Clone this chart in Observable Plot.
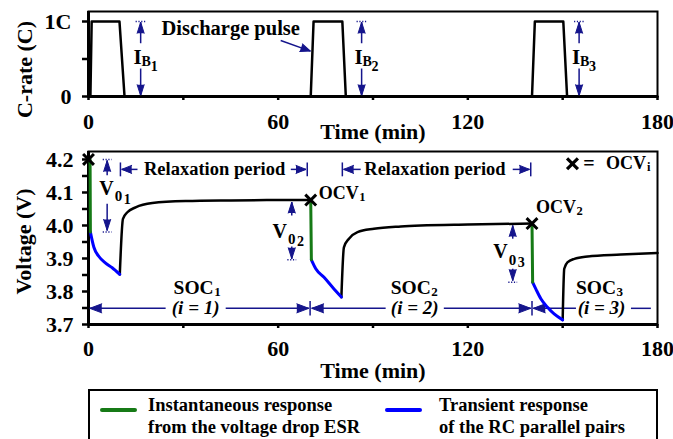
<!DOCTYPE html>
<html>
<head>
<meta charset="utf-8">
<script src="https://cdn.jsdelivr.net/npm/d3@7"></script>
<script src="https://cdn.jsdelivr.net/npm/@observablehq/plot@0.6"></script>
<style>
  body { margin: 0; background: #fff; }
  #fig { position: relative; width: 673px; height: 439px; overflow: hidden; background: #fff;
         font-family: "Liberation Serif", "Times New Roman", serif; font-weight: bold; color: #000; }
  #rate, #volt { position: absolute; left: 0; }
  #rate { top: 0; }
  #volt { top: 140px; }
  .legend { position: absolute; left: 88px; top: 389px; width: 566px; height: 80px; border: 2px solid #000; }
  .legend .sw { position: absolute; height: 4px; border-radius: 2px; }
  .legend .lt { position: absolute; font-size: 18.5px; line-height: 22px; white-space: nowrap; }
</style>
</head>
<body>
<div id="fig">
  <div id="rate"></div>
  <div id="volt"></div>
  <div class="legend" id="legend"></div>
</div>
<script>
// ---- C-rate pulse profile (top panel) ----
const rateTime = [0, 0.6, 1.0, 9.8, 11.4, 70.3, 71.2, 80.3, 81.4, 140.3, 141.2, 150.2, 151.4, 180];
const rateC    = [0, 0,   1,   1,   0,    0,    1,    1,    0,    0,     1,     1,     0,     0];

// ---- Terminal voltage, split by response phase (step = pulse index i) ----
// instantaneous drop across ESR
const esrTime = [0.5, 0.6, 70.3, 70.5, 140.3, 140.5];
const esrVolt = [4.200, 3.980, 4.077, 3.896, 4.006, 3.828];
const esrStep = [1, 1, 2, 2, 3, 3];
// transient response of the RC pairs during the pulse
const rcTime = [0.6, 1.7, 3.3, 5.4, 7.5, 9.9, 70.5, 71.9, 74.5, 77.2, 80.0, 140.5, 141.5, 143.1, 145.2, 147.3, 150.0];
const rcVolt = [3.980, 3.934, 3.906, 3.886, 3.872, 3.852, 3.896, 3.869, 3.843, 3.813, 3.783, 3.828, 3.808, 3.778, 3.752, 3.732, 3.714];
const rcStep = [1, 1, 1, 1, 1, 1, 2, 2, 2, 2, 2, 3, 3, 3, 3, 3, 3];
// relaxation after each pulse
const restTime = [9.9, 10.9, 12.3, 14.9, 20.2, 30.7, 45, 60, 70.3,
                  80.0, 80.8, 82.4, 85.1, 90.3, 98.8, 105.1, 120, 140.3,
                  150.0, 150.5, 151.6, 153.7, 157.9, 168.4, 180];
const restVolt = [3.852, 4.020, 4.040, 4.055, 4.068, 4.074, 4.076, 4.077, 4.077,
                  3.783, 3.934, 3.960, 3.980, 3.990, 3.997, 4.000, 4.003, 4.006,
                  3.714, 3.869, 3.889, 3.899, 3.906, 3.912, 3.917];
const restStep = [1, 1, 1, 1, 1, 1, 1, 1, 1, 2, 2, 2, 2, 2, 2, 2, 2, 2, 3, 3, 3, 3, 3, 3, 3];

// open-circuit voltage at the start of each pulse
const ocvTime = [0, 70.3, 140.3];
const ocvVolt = [4.200, 4.077, 4.006];

// ---- Axis ticks ----
const timeTicks = [0, 30, 60, 90, 120, 150, 180];
const timeTickLabels = ["0", "", "60", "", "120", "", "180"];
const rateTicks = [0, 0.5, 1];
const rateTickLabels = ["0", "", "1C"];
const voltTicks = [3.7, 3.75, 3.8, 3.85, 3.9, 3.95, 4.0, 4.05, 4.1, 4.15, 4.2];
const voltTickLabels = ["3.7", "", "3.8", "", "3.9", "", "4.0", "", "4.1", "", "4.2"];

// ---- Annotations ----
const ibTime = [16.5, 86.4, 155.2];
const ibSub = ["1", "2", "3"];

const v0Time = [5.9, 64.3, 134.2];
const v0UpTail = [4.152, 4.030, 3.960];
const v0UpTip = [4.197, 4.071, 4.000];
const v0DownTail = [4.066, 3.936, 3.869];
const v0DownTip = [3.985, 3.899, 3.833];
const v0LabelTime = [8.0, 62.8, 132.6];
const v0LabelVolt = [4.112, 3.983, 3.920];
const v0Sub = ["1", "2", "3"];

const relaxStart = [10.1, 80.3];
const relaxEnd = [69.2, 139.9];
const relaxGapStart = [15.5, 86.1];
const relaxGapEnd = [64.0, 134.2];
const relaxMid = [39.9, 109.6];

const socStart = [0.4, 70.6, 140.7];
const socEnd = [69.7, 139.9, 177.9];
const socGapStart = [24.4, 94.0, 154.2];
const socGapEnd = [43.4, 112.4, 171.6];
const socMid = [33.9, 103.2, 162.3];
const socIndex = ["(i = 1)", "(i = 2)", "(i = 3)"];
const socDivider = [70.1, 140.3];
const socLabelTime = [39.6, 108.3, 166.9];
const socSub = ["1", "2", "3"];

const ocvLabelTime = [85.5, 154.2];
const ocvLabelVolt = [4.097, 4.054];
const ocvSub = ["1", "2"];

const legendLabels = [["Instantaneous response", "from the voltage drop ESR"],
                      ["Transient response", "of the RC parallel pairs"]];

const NAVY = "#15158c";
const GREEN = "#167a16";
const BLUE = "#0000ff";
const FONT = "Liberation Serif, Times New Roman, serif";

const rows = (cols) => cols[Object.keys(cols)[0]].map((_, i) =>
  Object.fromEntries(Object.entries(cols).map(([k, v]) => [k, v[i]])));

const head = (data, opts) => Plot.vector(data, {
  shape: "spike", anchor: "end", length: 11, r: 4,
  fill: NAVY, stroke: NAVY, strokeWidth: 1, ...opts
});
const shaft = (data, opts) => Plot.link(data, {stroke: NAVY, strokeWidth: 1.5, ...opts});

const baseStyle = {fontFamily: FONT, fontSize: "22px", fontWeight: "bold", background: "transparent", color: "#000", overflow: "visible"};

// ================= top panel: C-rate =================
const rateRows = rows({t: rateTime, c: rateC});
const ib = rows({t: ibTime, sub: ibSub});

const ratePlot = Plot.plot({
  width: 673, height: 140,
  marginLeft: 88, marginRight: 16, marginTop: 11, marginBottom: 44,
  x: {domain: [0, 180]},
  y: {domain: [0, 1.1333]},
  style: baseStyle,
  marks: [
    Plot.frame({stroke: "#000", strokeWidth: 2}),
    Plot.axisX({ticks: timeTicks, tickFormat: (d, i) => timeTickLabels[i], tickSize: 4, tickPadding: 13,
                strokeWidth: 2.5, label: null, fontSize: 22}),
    Plot.axisY({ticks: rateTicks, tickFormat: (d, i) => rateTickLabels[i], tickSize: 6, tickPadding: 11,
                strokeWidth: 2.5, label: null, fontSize: 22}),
    Plot.ruleX([0], {stroke: "#000", strokeWidth: 3}),
    Plot.ruleY([0], {stroke: "#000", strokeWidth: 3}),
    Plot.text(["Time (min)"], {text: d => d, frameAnchor: "bottom", dy: 35, textAnchor: "middle", lineAnchor: "middle", fontSize: 22}),
    Plot.text(["C-rate (C)"], {text: d => d, frameAnchor: "left", dx: -64, dy: 15.5, rotate: -90, textAnchor: "middle", lineAnchor: "middle", fontSize: 22}),

    // I_B arrows
    Plot.link(ib, {x1: d => d.t - 1.6, x2: d => d.t + 1.6, y1: 1, y2: 1, stroke: NAVY, strokeWidth: 1.5, strokeDasharray: "1.2 1.6"}),
    shaft(ib, {x1: "t", x2: "t", y1: 0.71, y2: 0.99}),
    head(ib, {x: "t", y: 0.99, rotate: 0, r: 3.5}),
    shaft(ib, {x1: "t", x2: "t", y1: 0.373, y2: 0.01}),
    head(ib, {x: "t", y: 0.01, rotate: 180, r: 3.5}),
    Plot.text(ib, {x: "t", y: 0.52, text: () => "I", dx: -3, fontSize: 21, lineAnchor: "middle"}),
    Plot.text(ib, {x: "t", y: 0.52, text: () => "B", dx: 5.5, dy: 4, fontSize: 14, lineAnchor: "middle"}),
    Plot.text(ib, {x: "t", y: 0.52, text: "sub", dx: 13.5, dy: 9, fontSize: 14, lineAnchor: "middle"}),

    // "Discharge pulse" note
    Plot.text(["Discharge pulse"], {text: d => d, x: 45.0, y: 0.913, fontSize: 20.5, lineAnchor: "middle"}),
    shaft([0], {x1: 60.8, y1: 0.747, x2: 70.2, y2: 0.605}),
    head([0], {x: 70.2, y: 0.605, rotate: 110, length: 10}),

    Plot.line(rateRows, {x: "t", y: "c", stroke: "#000", strokeWidth: 2.5})
  ]
});
document.getElementById("rate").append(ratePlot);

// ================= bottom panel: voltage =================
const esrRows = rows({t: esrTime, v: esrVolt, step: esrStep});
const rcRows = rows({t: rcTime, v: rcVolt, step: rcStep});
const restRows = rows({t: restTime, v: restVolt, step: restStep});
const ocvRows = rows({t: ocvTime, v: ocvVolt});
const v0 = rows({t: v0Time, upTail: v0UpTail, upTip: v0UpTip, downTail: v0DownTail, downTip: v0DownTip,
                 lt: v0LabelTime, lv: v0LabelVolt, sub: v0Sub});
const v0Caps = rows({t: [v0Time[0], ...v0Time], v: [ocvVolt[0], esrVolt[1], esrVolt[3], esrVolt[5]]});
const relax = rows({a: relaxStart, b: relaxEnd, ga: relaxGapStart, gb: relaxGapEnd, mid: relaxMid});
const soc = rows({a: socStart, b: socEnd, ga: socGapStart, gb: socGapEnd, mid: socMid, idx: socIndex,
                  lt: socLabelTime, sub: socSub});
const ocvLab = rows({t: ocvLabelTime, v: ocvLabelVolt, sub: ocvSub});
const RELAX_V = 4.170, SOC_V = 3.749, SOC_LABEL_V = 3.812;

const voltPlot = Plot.plot({
  width: 673, height: 245,
  marginLeft: 88, marginRight: 16, marginTop: 11, marginBottom: 61,
  x: {domain: [0, 180]},
  y: {domain: [3.7, 4.2242]},
  style: baseStyle,
  marks: [
    Plot.frame({stroke: "#000", strokeWidth: 2}),
    Plot.axisX({ticks: timeTicks, tickFormat: (d, i) => timeTickLabels[i], tickSize: 4, tickPadding: 12,
                strokeWidth: 2.5, label: null, fontSize: 22}),
    Plot.axisY({ticks: voltTicks, tickFormat: (d, i) => voltTickLabels[i], tickSize: 6, tickPadding: 9,
                strokeWidth: 2.5, label: null, fontSize: 22}),
    Plot.ruleX([0], {stroke: "#000", strokeWidth: 3}),
    Plot.ruleY([3.7], {stroke: "#000", strokeWidth: 3}),
    Plot.text(["Time (min)"], {text: d => d, frameAnchor: "bottom", dy: 46, textAnchor: "middle", lineAnchor: "middle", fontSize: 22}),
    Plot.text(["Voltage (V)"], {text: d => d, frameAnchor: "left", dx: -65, dy: 3.5, rotate: -90, textAnchor: "middle", lineAnchor: "middle", fontSize: 22}),

    // V0 arrows
    Plot.link(v0Caps, {x1: d => d.t - 1.4, x2: d => d.t + 1.4, y1: "v", y2: "v", stroke: NAVY, strokeWidth: 1.5, strokeDasharray: "1.2 1.6"}),
    shaft(v0, {x1: "t", x2: "t", y1: "upTail", y2: "upTip"}),
    head(v0, {x: "t", y: "upTip", rotate: 0, r: 3.5}),
    shaft(v0, {x1: "t", x2: "t", y1: "downTail", y2: "downTip"}),
    head(v0, {x: "t", y: "downTip", rotate: 180, r: 3.5}),
    Plot.text(v0, {x: "lt", y: "lv", text: () => "V", textAnchor: "end", fontSize: 20, lineAnchor: "middle"}),
    Plot.text(v0, {x: "lt", y: "lv", text: () => "0", textAnchor: "start", dx: 1, dy: 8, fontSize: 15, lineAnchor: "middle"}),
    Plot.text(v0, {x: "lt", y: "lv", text: "sub", textAnchor: "start", dx: 10, dy: 10.5, fontSize: 14, lineAnchor: "middle"}),

    // relaxation period arrows
    Plot.link(relax.flatMap(d => [d.a, d.b]), {x1: d => d, x2: d => d, y1: RELAX_V - 0.021, y2: RELAX_V + 0.021, stroke: NAVY, strokeWidth: 1.5}),
    shaft(relax, {x1: d => d.a + 0.4, x2: "ga", y1: RELAX_V, y2: RELAX_V}),
    shaft(relax, {x1: "gb", x2: d => d.b - 0.4, y1: RELAX_V, y2: RELAX_V}),
    head(relax, {x: d => d.a + 0.4, y: RELAX_V, rotate: -90, length: 10}),
    head(relax, {x: d => d.b - 0.4, y: RELAX_V, rotate: 90, length: 10}),
    Plot.text(relax, {x: "mid", y: RELAX_V, text: () => "Relaxation period", fontSize: 18.5, lineAnchor: "middle"}),

    // SOC_i intervals
    Plot.link(socDivider, {x1: d => d, x2: d => d, y1: SOC_V - 0.022, y2: SOC_V + 0.022, stroke: NAVY, strokeWidth: 1.5}),
    shaft(soc, {x1: "a", x2: "ga", y1: SOC_V, y2: SOC_V}),
    shaft(soc, {x1: "gb", x2: "b", y1: SOC_V, y2: SOC_V}),
    head(soc, {x: "a", y: SOC_V, rotate: -90, length: 12, r: 4.5}),
    head(soc.slice(0, 2), {x: "b", y: SOC_V, rotate: 90, length: 12, r: 4.5}),
    Plot.text(soc, {x: "mid", y: SOC_V, text: "idx", fontStyle: "italic", fontSize: 19, lineAnchor: "middle"}),
    Plot.text(soc, {x: "lt", y: SOC_LABEL_V, text: () => "SOC", textAnchor: "end", fontSize: 19.5, lineAnchor: "middle"}),
    Plot.text(soc, {x: "lt", y: SOC_LABEL_V, text: "sub", textAnchor: "start", dx: 0.5, dy: 4, fontSize: 13, lineAnchor: "middle"}),

    // OCV labels
    Plot.text(ocvLab, {x: "t", y: "v", text: () => "OCV", textAnchor: "end", fontSize: 18, lineAnchor: "middle"}),
    Plot.text(ocvLab, {x: "t", y: "v", text: "sub", textAnchor: "start", dx: 0.5, dy: 3.5, fontSize: 12.5, lineAnchor: "middle"}),

    // key: x = OCV_i
    Plot.dot([0], {x: 153.1, y: 4.187, symbol: "times", r: 5, stroke: "#000", strokeWidth: 3.2}),
    Plot.text(["="], {text: d => d, x: 158.3, y: 4.188, fontSize: 20, lineAnchor: "middle"}),
    Plot.text(["OCV"], {text: d => d, x: 176.4, y: 4.188, textAnchor: "end", fontSize: 18, lineAnchor: "middle"}),
    Plot.text(["i"], {text: d => d, x: 176.4, y: 4.188, textAnchor: "start", dx: 1, dy: 4, fontSize: 12.5, lineAnchor: "middle"}),

    // voltage response
    Plot.line(restRows, {x: "t", y: "v", z: "step", stroke: "#000", strokeWidth: 2.5, curve: "monotone-x"}),
    Plot.line(rcRows, {x: "t", y: "v", z: "step", stroke: BLUE, strokeWidth: 3, curve: "monotone-x"}),
    Plot.line(esrRows, {x: "t", y: "v", z: "step", stroke: GREEN, strokeWidth: 3}),
    Plot.dot(ocvRows, {x: "t", y: "v", symbol: "times", r: 5, stroke: "#000", strokeWidth: 3})
  ]
});
document.getElementById("volt").append(voltPlot);

// ================= legend =================
const legend = document.getElementById("legend");
const legendColors = [GREEN, BLUE];
const swatchLeft = [10, 295];
const textLeft = [58, 349];
legendLabels.forEach((lines, i) => {
  const sw = document.createElement("div");
  sw.className = "sw";
  sw.style.cssText = `left:${swatchLeft[i]}px;top:17px;width:37px;background:${legendColors[i]}`;
  legend.append(sw);
  const lt = document.createElement("div");
  lt.className = "lt";
  lt.style.cssText = `left:${textLeft[i]}px;top:3px`;
  lt.innerHTML = lines.join("<br>");
  legend.append(lt);
});
</script>
</body>
</html>
